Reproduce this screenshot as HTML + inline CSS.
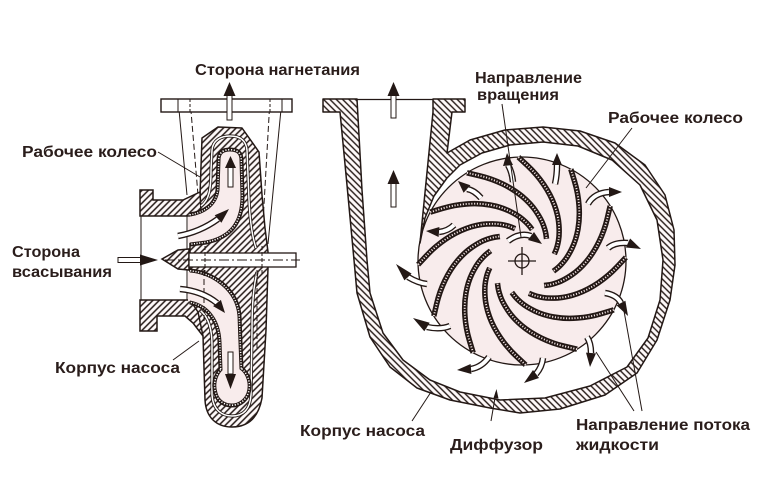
<!DOCTYPE html>
<html><head><meta charset="utf-8">
<style>
html,body{margin:0;padding:0;background:#fff;}
svg{display:block}
.t{font-family:"Liberation Sans",Arial,sans-serif;font-weight:bold;font-size:16px;fill:#2a1d1b}
.ab{fill:none;stroke:#231815;stroke-width:6.5}
.aw{fill:none;stroke:#fff;stroke-width:3.8}
.hd{fill:#231815}
.ln{stroke:#231815;stroke-width:1;fill:none}
.bl{fill:none;stroke:#231815;stroke-width:5.5;stroke-linejoin:round}
.bh{fill:none;stroke:#f6e8e8;stroke-width:1.9;stroke-dasharray:1.1 1.7}
</style></head>
<body>
<svg width="774" height="499" viewBox="0 0 774 499" xmlns="http://www.w3.org/2000/svg">
<defs>
<pattern id="hr" width="4.5" height="4.5" patternUnits="userSpaceOnUse" patternTransform="rotate(-45)">
<rect width="4.5" height="4.5" fill="#fffafa"/><line x1="1" y1="0" x2="1" y2="4.5" stroke="#231815" stroke-width="1.4"/>
</pattern>
<pattern id="hl" width="4.5" height="4.5" patternUnits="userSpaceOnUse" patternTransform="rotate(45)">
<rect width="4.5" height="4.5" fill="#fffafa"/><line x1="1" y1="0" x2="1" y2="4.5" stroke="#231815" stroke-width="1.5"/>
</pattern>
</defs>
<rect width="774" height="499" fill="#fff"/>

<!-- ============ LEFT PUMP ============ -->
<line x1="178" y1="99" x2="187" y2="195" class="ln"/>
<line x1="282" y1="99" x2="268" y2="244" class="ln"/>
<line x1="190" y1="99" x2="198" y2="195" class="ln" stroke-dasharray="6 3"/>
<line x1="270" y1="99" x2="262" y2="240" class="ln" stroke-dasharray="6 3"/>
<line x1="187" y1="216" x2="187" y2="253" class="ln"/>
<line x1="187" y1="267" x2="187" y2="301" class="ln"/>
<line x1="141" y1="216" x2="141" y2="300" class="ln"/>

<path d="M190,200 L200,195 L202,138 L218,127 L242,128 L259,152 L262,195 L265,228 L268,252 L268,268 L266,330 L262,398 C258,420 246,427 232,427 C217,427 206,418 205,400 L203,336 L196,322 L190,316 Z" fill="url(#hl)" stroke="#231815" stroke-width="1.5" stroke-linejoin="round"/>
<path d="M140,190 L153,190 L153,200 L183,200 L200,192 L201,212 L190,216 L140,216 Z" fill="url(#hl)" stroke="#231815" stroke-width="1.5"/>
<path d="M140,300 L190,300 L198,312 L203,336 L193,323 L185,316 L157,316 L157,331 L140,331 Z" fill="url(#hl)" stroke="#231815" stroke-width="1.5"/>

<path d="M201,206 C209,200 211,190 211,170 L212,150 C213,140 221,136 230,136 C240,136 246,140 247,150 L249,200 C250,222 252,236 256,248" fill="none" stroke="#231815" stroke-width="3.2"/>
<path d="M201,206 C209,200 211,190 211,170 L212,150 C213,140 221,136 230,136 C240,136 246,140 247,150 L249,200 C250,222 252,236 256,248" fill="none" stroke="#fff" stroke-width="1.5"/>
<path d="M201,311 C209,318 212,330 212,345 L212,395 C213,410 222,416 232,416 C243,416 250,410 251,395 L252,330 C252,300 254,285 257,272" fill="none" stroke="#231815" stroke-width="3.2"/>
<path d="M201,311 C209,318 212,330 212,345 L212,395 C213,410 222,416 232,416 C243,416 250,410 251,395 L252,330 C252,300 254,285 257,272" fill="none" stroke="#fff" stroke-width="1.5"/>

<path d="M190,216 C204,214 217,206 219,190 L220,160 C220,153 224,151 230,151 C236,151 240,153 240,160 L241,196 C241,222 230,236 206,241 L190,243" fill="none" stroke="#231815" stroke-width="7"/>
<path d="M190,216 C204,214 217,206 219,190 L220,160 C220,153 224,151 230,151 C236,151 240,153 240,160 L241,196 C241,222 230,236 206,241 L190,243" fill="none" stroke="#fff" stroke-width="4" stroke-dasharray="1.1 1.5"/>
<path d="M188,217 C204,214 217,206 219,190 L220,160 C220,153 224,151 230,151 C236,151 240,153 240,160 L241,196 C241,222 230,236 206,241 L188,243 Z" fill="#f8ecec"/>
<path d="M190,216 C204,214 217,206 219,190 L220,160 C220,153 224,151 230,151 C236,151 240,153 240,160 L241,196 C241,222 230,236 206,241 L190,243" class="ln"/>

<path d="M190,272 C212,274 236,290 238,316 L240,369 C247,374 250,384 247,393 C244,401 237,404 232,404 C226,404 219,401 217,393 C214,384 217,375 222,370 L221,342 C220,320 209,305 190,301" fill="none" stroke="#231815" stroke-width="7"/>
<path d="M190,272 C212,274 236,290 238,316 L240,369 C247,374 250,384 247,393 C244,401 237,404 232,404 C226,404 219,401 217,393 C214,384 217,375 222,370 L221,342 C220,320 209,305 190,301" fill="none" stroke="#fff" stroke-width="4" stroke-dasharray="1.1 1.5"/>
<path d="M188,272 C212,274 236,290 238,316 L240,369 C247,374 250,384 247,393 C244,401 237,404 232,404 C226,404 219,401 217,393 C214,384 217,375 222,370 L221,342 C220,320 209,305 188,301 Z" fill="#f8ecec"/>
<path d="M190,272 C212,274 236,290 238,316 L240,369 C247,374 250,384 247,393 C244,401 237,404 232,404 C226,404 219,401 217,393 C214,384 217,375 222,370 L221,342 C220,320 209,305 190,301" class="ln"/>

<line x1="204" y1="270" x2="204" y2="322" class="ln" stroke-dasharray="6 3"/>
<line x1="257" y1="270" x2="257" y2="350" class="ln" stroke-dasharray="6 3"/>

<path d="M162,259 L178,250 L189,249 L189,270 L178,269 Z" fill="url(#hl)" stroke="#231815" stroke-width="1.5"/>
<rect x="189" y="253" width="107" height="14" fill="#fff" stroke="#231815" stroke-width="1.3"/>
<line x1="165" y1="260" x2="300" y2="260" class="ln" stroke-dasharray="10 3 2 3"/>
<line x1="205" y1="246" x2="205" y2="274" class="ln" stroke-dasharray="4 2"/>
<line x1="262" y1="246" x2="262" y2="274" class="ln" stroke-dasharray="4 2"/>

<rect x="161" y="99" width="131" height="13" fill="#fff" stroke="#231815" stroke-width="1.4"/>
<line x1="178" y1="99" x2="178" y2="112" class="ln"/>
<line x1="190" y1="99" x2="190" y2="112" class="ln" stroke-dasharray="3 2"/>
<line x1="270" y1="99" x2="270" y2="112" class="ln" stroke-dasharray="3 2"/>
<line x1="282" y1="99" x2="282" y2="112" class="ln"/>

<rect x="227" y="95" width="5" height="25" fill="#fff" stroke="#231815" stroke-width="1"/>
<polygon points="223.5,96 229.5,82 235.5,96" class="hd"/>
<rect x="228" y="167" width="5" height="20" fill="#fff" stroke="#231815" stroke-width="1"/>
<polygon points="225,168 230.5,156 236,168" class="hd"/>
<rect x="228" y="352" width="5" height="22" fill="#fff" stroke="#231815" stroke-width="1"/>
<polygon points="225,374 236,374 230.5,389" class="hd"/>
<rect x="118" y="257.5" width="23" height="5" fill="#fff" stroke="#231815" stroke-width="1"/>
<polygon points="140,254.5 158,260 140,265.5" class="hd"/>
<path d="M178,236 Q200,232 218,219" class="ab"/><path d="M178,236 Q200,232 218,219" class="aw"/>
<polygon points="229,209 221.4,222.7 214.7,215.3" class="hd"/>
<path d="M180,289 Q202,291 217,303" class="ab"/><path d="M180,289 Q202,291 217,303" class="aw"/>
<polygon points="225,313 213.1,306.1 220.9,299.9" class="hd"/>

<!-- ============ RIGHT PUMP ============ -->
<circle cx="522" cy="261" r="104" fill="#f8ecec" stroke="#231815" stroke-width="1.3"/>

<g>
<g><path d="M625.9,257.4 L617.35,266.55 Q608.8,275.7 598.4,282.75 Q588,289.8 577.65,293.55 Q567.3,297.3 557.85,297.95 Q548.4,298.6 542.25,297.45 Q536.1,296.3 532.5,294.8 L528.9,293.3" class="bl"/><path d="M625.9,257.4 L617.35,266.55 Q608.8,275.7 598.4,282.75 Q588,289.8 577.65,293.55 Q567.3,297.3 557.85,297.95 Q548.4,298.6 542.25,297.45 Q536.1,296.3 532.5,294.8 L528.9,293.3" class="bh"/></g>
<g transform="rotate(-30 522 261)"><path d="M625.9,257.4 L617.35,266.55 Q608.8,275.7 598.4,282.75 Q588,289.8 577.65,293.55 Q567.3,297.3 557.85,297.95 Q548.4,298.6 542.25,297.45 Q536.1,296.3 532.5,294.8 L528.9,293.3" class="bl"/><path d="M625.9,257.4 L617.35,266.55 Q608.8,275.7 598.4,282.75 Q588,289.8 577.65,293.55 Q567.3,297.3 557.85,297.95 Q548.4,298.6 542.25,297.45 Q536.1,296.3 532.5,294.8 L528.9,293.3" class="bh"/></g>
<g transform="rotate(-60 522 261)"><path d="M625.9,257.4 L617.35,266.55 Q608.8,275.7 598.4,282.75 Q588,289.8 577.65,293.55 Q567.3,297.3 557.85,297.95 Q548.4,298.6 542.25,297.45 Q536.1,296.3 532.5,294.8 L528.9,293.3" class="bl"/><path d="M625.9,257.4 L617.35,266.55 Q608.8,275.7 598.4,282.75 Q588,289.8 577.65,293.55 Q567.3,297.3 557.85,297.95 Q548.4,298.6 542.25,297.45 Q536.1,296.3 532.5,294.8 L528.9,293.3" class="bh"/></g>
<g transform="rotate(-90 522 261)"><path d="M625.9,257.4 L617.35,266.55 Q608.8,275.7 598.4,282.75 Q588,289.8 577.65,293.55 Q567.3,297.3 557.85,297.95 Q548.4,298.6 542.25,297.45 Q536.1,296.3 532.5,294.8 L528.9,293.3" class="bl"/><path d="M625.9,257.4 L617.35,266.55 Q608.8,275.7 598.4,282.75 Q588,289.8 577.65,293.55 Q567.3,297.3 557.85,297.95 Q548.4,298.6 542.25,297.45 Q536.1,296.3 532.5,294.8 L528.9,293.3" class="bh"/></g>
<g transform="rotate(-120 522 261)"><path d="M625.9,257.4 L617.35,266.55 Q608.8,275.7 598.4,282.75 Q588,289.8 577.65,293.55 Q567.3,297.3 557.85,297.95 Q548.4,298.6 542.25,297.45 Q536.1,296.3 532.5,294.8 L528.9,293.3" class="bl"/><path d="M625.9,257.4 L617.35,266.55 Q608.8,275.7 598.4,282.75 Q588,289.8 577.65,293.55 Q567.3,297.3 557.85,297.95 Q548.4,298.6 542.25,297.45 Q536.1,296.3 532.5,294.8 L528.9,293.3" class="bh"/></g>
<g transform="rotate(-150 522 261)"><path d="M625.9,257.4 L617.35,266.55 Q608.8,275.7 598.4,282.75 Q588,289.8 577.65,293.55 Q567.3,297.3 557.85,297.95 Q548.4,298.6 542.25,297.45 Q536.1,296.3 532.5,294.8 L528.9,293.3" class="bl"/><path d="M625.9,257.4 L617.35,266.55 Q608.8,275.7 598.4,282.75 Q588,289.8 577.65,293.55 Q567.3,297.3 557.85,297.95 Q548.4,298.6 542.25,297.45 Q536.1,296.3 532.5,294.8 L528.9,293.3" class="bh"/></g>
<g transform="rotate(-180 522 261)"><path d="M625.9,257.4 L617.35,266.55 Q608.8,275.7 598.4,282.75 Q588,289.8 577.65,293.55 Q567.3,297.3 557.85,297.95 Q548.4,298.6 542.25,297.45 Q536.1,296.3 532.5,294.8 L528.9,293.3" class="bl"/><path d="M625.9,257.4 L617.35,266.55 Q608.8,275.7 598.4,282.75 Q588,289.8 577.65,293.55 Q567.3,297.3 557.85,297.95 Q548.4,298.6 542.25,297.45 Q536.1,296.3 532.5,294.8 L528.9,293.3" class="bh"/></g>
<g transform="rotate(-210 522 261)"><path d="M625.9,257.4 L617.35,266.55 Q608.8,275.7 598.4,282.75 Q588,289.8 577.65,293.55 Q567.3,297.3 557.85,297.95 Q548.4,298.6 542.25,297.45 Q536.1,296.3 532.5,294.8 L528.9,293.3" class="bl"/><path d="M625.9,257.4 L617.35,266.55 Q608.8,275.7 598.4,282.75 Q588,289.8 577.65,293.55 Q567.3,297.3 557.85,297.95 Q548.4,298.6 542.25,297.45 Q536.1,296.3 532.5,294.8 L528.9,293.3" class="bh"/></g>
<g transform="rotate(-240 522 261)"><path d="M625.9,257.4 L617.35,266.55 Q608.8,275.7 598.4,282.75 Q588,289.8 577.65,293.55 Q567.3,297.3 557.85,297.95 Q548.4,298.6 542.25,297.45 Q536.1,296.3 532.5,294.8 L528.9,293.3" class="bl"/><path d="M625.9,257.4 L617.35,266.55 Q608.8,275.7 598.4,282.75 Q588,289.8 577.65,293.55 Q567.3,297.3 557.85,297.95 Q548.4,298.6 542.25,297.45 Q536.1,296.3 532.5,294.8 L528.9,293.3" class="bh"/></g>
<g transform="rotate(-270 522 261)"><path d="M625.9,257.4 L617.35,266.55 Q608.8,275.7 598.4,282.75 Q588,289.8 577.65,293.55 Q567.3,297.3 557.85,297.95 Q548.4,298.6 542.25,297.45 Q536.1,296.3 532.5,294.8 L528.9,293.3" class="bl"/><path d="M625.9,257.4 L617.35,266.55 Q608.8,275.7 598.4,282.75 Q588,289.8 577.65,293.55 Q567.3,297.3 557.85,297.95 Q548.4,298.6 542.25,297.45 Q536.1,296.3 532.5,294.8 L528.9,293.3" class="bh"/></g>
<g transform="rotate(-300 522 261)"><path d="M625.9,257.4 L617.35,266.55 Q608.8,275.7 598.4,282.75 Q588,289.8 577.65,293.55 Q567.3,297.3 557.85,297.95 Q548.4,298.6 542.25,297.45 Q536.1,296.3 532.5,294.8 L528.9,293.3" class="bl"/><path d="M625.9,257.4 L617.35,266.55 Q608.8,275.7 598.4,282.75 Q588,289.8 577.65,293.55 Q567.3,297.3 557.85,297.95 Q548.4,298.6 542.25,297.45 Q536.1,296.3 532.5,294.8 L528.9,293.3" class="bh"/></g>
<g transform="rotate(-330 522 261)"><path d="M625.9,257.4 L617.35,266.55 Q608.8,275.7 598.4,282.75 Q588,289.8 577.65,293.55 Q567.3,297.3 557.85,297.95 Q548.4,298.6 542.25,297.45 Q536.1,296.3 532.5,294.8 L528.9,293.3" class="bl"/><path d="M625.9,257.4 L617.35,266.55 Q608.8,275.7 598.4,282.75 Q588,289.8 577.65,293.55 Q567.3,297.3 557.85,297.95 Q548.4,298.6 542.25,297.45 Q536.1,296.3 532.5,294.8 L528.9,293.3" class="bh"/></g>
</g>

<circle cx="522" cy="261" r="7" fill="none" stroke="#231815" stroke-width="1.3"/>
<line x1="508" y1="261" x2="536" y2="261" stroke="#231815" stroke-width="1.3"/>
<line x1="522" y1="247" x2="522" y2="275" stroke="#231815" stroke-width="1.3"/>

<path d="M323,99 L357,99 L362,190 L367,260 L370,293 L383,333 L403,360 L430,380 L460,392 L500,400 L545,398 L590,386 L627,367 L648,338 L660,300 L663,260 L657,220 L640,185 L612,160 L578,146 L543,142 L510,145 L482,153 L460,165 L447,178 L434,196 L425,218 L420,243 L433,112 L433,99 L465,99 L465,112 L452,112 L447,153 L470,140 L505,130 L543,127 L580,131 L615,143 L645,165 L665,195 L674,230 L675,265 L670,300 L657,340 L637,373 L605,395 L560,409 L520,413 L490,408 L450,400 L417,388 L390,367 L370,337 L357,293 L354,260 L347,185 L340,112 L323,112 Z" fill="url(#hr)" stroke="#231815" stroke-width="1.5" stroke-linejoin="round"/>
<line x1="357" y1="99.5" x2="433" y2="99.5" stroke="#231815" stroke-width="1.2"/>

<rect x="391" y="95" width="5" height="23" fill="#fff" stroke="#231815" stroke-width="1"/>
<polygon points="387.5,96 393.5,82 399.5,96" class="hd"/>
<rect x="391" y="183" width="5" height="24" fill="#fff" stroke="#231815" stroke-width="1"/>
<polygon points="387.5,184 393.5,170 399.5,184" class="hd"/>

<path d="M513,182 Q512,172 508,165" class="ab"/><path d="M513,182 Q512,172 508,165" class="aw"/><polygon points="507,153 513,165 503,166" class="hd"/>
<path d="M555,184 Q557,175 557,165" class="ab"/><path d="M555,184 Q557,175 557,165" class="aw"/><polygon points="557,153 562,165 552,165" class="hd"/>
<path d="M588,204 Q594,193 609,192" class="ab"/><path d="M588,204 Q594,193 609,192" class="aw"/><polygon points="622,192 609,187 609,197" class="hd"/>
<path d="M608,248 Q615,242 628,243" class="ab"/><path d="M608,248 Q615,242 628,243" class="aw"/><polygon points="641,249 625.9,247.5 630.1,238.5" class="hd"/>
<path d="M605,293 Q617,295 621,303" class="ab"/><path d="M605,293 Q617,295 621,303" class="aw"/><polygon points="628,316 616.6,305.4 625.4,300.7" class="hd"/>
<path d="M587,337 Q591,343 591,353" class="ab"/><path d="M587,337 Q591,343 591,353" class="aw"/><polygon points="590,367 596,353.4 586,352.6" class="hd"/>
<path d="M543,358 Q542,367 536,374" class="ab"/><path d="M543,358 Q542,367 536,374" class="aw"/><polygon points="524,383 539,378 533,370" class="hd"/>
<path d="M489,357 Q482,367 471,369" class="ab"/><path d="M489,357 Q482,367 471,369" class="aw"/><polygon points="457,370 471.4,374 470.6,364" class="hd"/>
<path d="M450,326 Q440,330 427,327" class="ab"/><path d="M450,326 Q440,330 427,327" class="aw"/><polygon points="413,318 429.7,322.8 424.3,331.2" class="hd"/>
<path d="M427,284 Q418,283 408,277" class="ab"/><path d="M427,284 Q418,283 408,277" class="aw"/><polygon points="396,264 411.6,273.6 404.4,280.4" class="hd"/>
<path d="M454,225 Q448,231 439,232" class="ab"/><path d="M454,225 Q448,231 439,232" class="aw"/><polygon points="426,231 439.4,227 438.6,237" class="hd"/>
<path d="M481,198 Q474,190 467,189" class="ab"/><path d="M481,198 Q474,190 467,189" class="aw"/><polygon points="458,181 470.4,185.3 463.6,192.8" class="hd"/>
<path d="M508,241 Q520,232 531,236" class="ab"/><path d="M508,241 Q520,232 531,236" class="aw"/><polygon points="542,244 528,240 534,232" class="hd"/>

<line x1="158" y1="152" x2="200" y2="177" class="ln"/>
<line x1="173" y1="360" x2="199" y2="341" class="ln"/>
<line x1="502" y1="104" x2="521" y2="237" class="ln"/>
<line x1="632" y1="128" x2="586" y2="188" class="ln"/>
<line x1="412" y1="421" x2="431" y2="392" class="ln"/>
<line x1="491" y1="421" x2="496" y2="392" class="ln"/>
<polygon points="493.5,398 496.5,389 498.5,398.5" class="hd"/>
<line x1="634" y1="411" x2="596" y2="352" class="ln"/>
<line x1="642" y1="411" x2="624" y2="311" class="ln"/>

<text class="t" x="195" y="75" textLength="165" lengthAdjust="spacingAndGlyphs">Сторона нагнетания</text>
<text class="t" x="475" y="83" textLength="107" lengthAdjust="spacingAndGlyphs">Направление</text>
<text class="t" x="477" y="100" textLength="82" lengthAdjust="spacingAndGlyphs">вращения</text>
<text class="t" x="608" y="123" textLength="135" lengthAdjust="spacingAndGlyphs">Рабочее колесо</text>
<text class="t" x="22" y="157" textLength="135" lengthAdjust="spacingAndGlyphs">Рабочее колесо</text>
<text class="t" x="12" y="257" textLength="68" lengthAdjust="spacingAndGlyphs">Сторона</text>
<text class="t" x="12" y="277" textLength="100" lengthAdjust="spacingAndGlyphs">всасывания</text>
<text class="t" x="55" y="373" textLength="125" lengthAdjust="spacingAndGlyphs">Корпус насоса</text>
<text class="t" x="300" y="436" textLength="125" lengthAdjust="spacingAndGlyphs">Корпус насоса</text>
<text class="t" x="450" y="450" textLength="93" lengthAdjust="spacingAndGlyphs">Диффузор</text>
<text class="t" x="576" y="430" textLength="174" lengthAdjust="spacingAndGlyphs">Направление потока</text>
<text class="t" x="576" y="450" textLength="83" lengthAdjust="spacingAndGlyphs">жидкости</text>
</svg>
</body></html>
